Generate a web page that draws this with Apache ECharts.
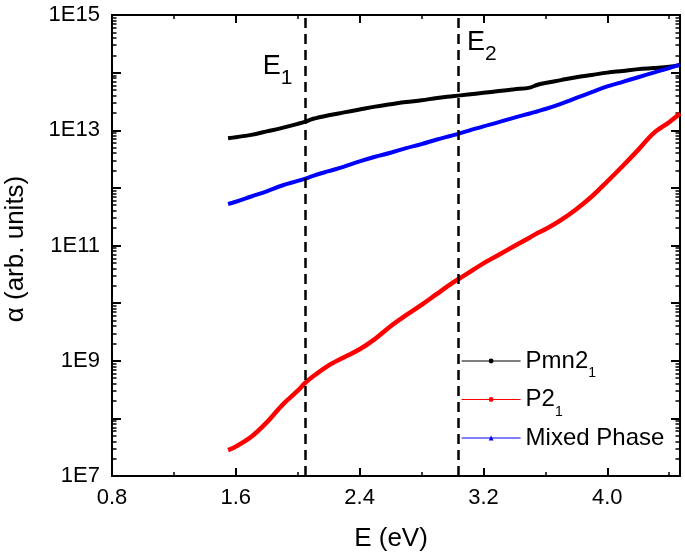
<!DOCTYPE html>
<html><head><meta charset="utf-8">
<script src="https://cdn.jsdelivr.net/npm/echarts@6/dist/echarts.min.js"></script>
<style>html,body{margin:0;padding:0;background:#fff}#c{width:685px;height:556px}</style>
</head><body><div id="c"></div>
<script>
// ---- data ----
const energy = [1.55,1.6,1.7,1.8,1.9,2.0,2.05,2.1,2.2,2.3,2.4,2.5,2.6,2.7,2.8,2.9,3.0,3.1,3.2,3.3,3.4,3.5,3.55,3.6,3.7,3.8,3.9,4.0,4.1,4.2,4.3,4.4,4.47];
const pmn21 = [7.24e12,7.59e12,8.32e12,9.55e12,1.10e13,1.29e13,1.41e13,1.58e13,1.82e13,2.04e13,2.29e13,2.57e13,2.82e13,3.09e13,3.31e13,3.63e13,3.89e13,4.17e13,4.47e13,4.79e13,5.13e13,5.50e13,6.17e13,6.61e13,7.41e13,8.32e13,9.12e13,1.00e14,1.07e14,1.15e14,1.20e14,1.26e14,1.35e14];
const p21 = [2.82e7,3.24e7,4.79e7,8.51e7,1.70e8,3.02e8,4.17e8,5.37e8,8.32e8,1.15e9,1.58e9,2.40e9,3.98e9,6.17e9,9.33e9,1.45e10,2.24e10,3.31e10,4.90e10,6.92e10,9.77e10,1.38e11,1.65e11,1.91e11,2.75e11,4.27e11,7.08e11,1.29e12,2.40e12,4.57e12,8.91e12,1.38e13,1.95e13];
const mixed = [5.25e11,5.75e11,7.08e11,8.71e11,1.10e12,1.32e12,1.45e12,1.62e12,1.95e12,2.34e12,2.88e12,3.47e12,4.07e12,4.90e12,5.75e12,6.92e12,8.13e12,9.77e12,1.17e13,1.38e13,1.66e13,1.95e13,2.14e13,2.34e13,2.88e13,3.63e13,4.57e13,5.75e13,6.92e13,8.32e13,1.00e14,1.20e14,1.38e14];
const seriesNames = ['Pmn2\u2081','P2\u2081','Mixed Phase'];
const seriesColors = ['#000000','#ff0000','#0000ff'];
const seriesSymbols = ['circle','circle','triangle'];
const xMajorTicks = [0.8,1.6,2.4,3.2,4.0];
const xMinorTicks = [1.2,2.0,2.8,3.6,4.4];
const yMajorTicks = [1e7,1e8,1e9,1e10,1e11,1e12,1e13,1e14,1e15];
const yLabelTicks = [1e7,1e9,1e11,1e13,1e15];
const edgeLines = [2.05,3.04];
const edgeLabels = [{main:'E',sub:'1',x:1.87,y:1.30e14},{main:'E',sub:'2',x:3.19,y:3.33e14}];

const Y_MIN = 1e7, Y_MAX = 1e15;
const yMinorTicks = [];
for (let k = 7; k < 15; k++) for (let m = 2; m <= 9; m++) yMinorTicks.push(m * Math.pow(10, k));
// keep end values just inside the log extent (avoids float round-off dropping them)
const inside = arr => arr.map(v => Math.min(Math.max(v, Y_MIN * (1 + 1e-9)), Y_MAX * (1 - 1e-9)));

const FONT = '"Liberation Sans", Arial, sans-serif';
const BLACK = '#000';

function xAx(pos, ticks, len, w, withLabels) {
  const a = {
    type:'value', position:pos, min:0.8, max:4.47,
    axisLine:{show:true,onZero:false,lineStyle:{color:BLACK,width:2}},
    axisTick:{show:true,inside:true,length:len,customValues:ticks,lineStyle:{color:BLACK,width:w}},
    axisLabel:{show:false}, splitLine:{show:false}, minorTick:{show:false}
  };
  if (withLabels) {
    a.axisLabel = {show:true,customValues:ticks,formatter:v=>v.toFixed(1),fontSize:22,color:BLACK,fontFamily:FONT,margin:11};
    a.name = 'E (eV)'; a.nameLocation='middle'; a.nameGap=50;
    a.nameTextStyle = {fontSize:26,color:BLACK,fontFamily:FONT,padding:[0,10,0,0]};
  }
  return a;
}
function yAx(pos, ticks, len, w, withLabels) {
  const a = {
    type:'log', logBase:10, position:pos, min:Y_MIN, max:Y_MAX,
    axisLine:{show:true,onZero:false,lineStyle:{color:BLACK,width:2}},
    axisTick:{show:true,inside:true,length:len,customValues:inside(ticks),lineStyle:{color:BLACK,width:w}},
    axisLabel:{show:false}, splitLine:{show:false}, minorTick:{show:false}
  };
  if (withLabels) {
    a.axisLabel = {show:true,customValues:inside(yLabelTicks),formatter:v=>'1E'+Math.round(Math.log10(v)),fontSize:22,color:BLACK,fontFamily:FONT,margin:12};
    a.name = '\u03b1 (arb. units)'; a.nameLocation='middle'; a.nameGap=83;
    a.nameTextStyle = {fontSize:26,color:BLACK,fontFamily:FONT,padding:[0,7,0,0]};
  }
  return a;
}

const dataSets = [pmn21, p21, mixed];
const series = dataSets.map((vals, i) => ({
  name: seriesNames[i], type:'line', xAxisIndex:0, yAxisIndex:0,
  data: energy.map((e, j) => [e, vals[j]]),
  showSymbol:false, symbol:seriesSymbols[i], symbolSize:5,
  smooth:0.35,
  lineStyle:{color:seriesColors[i], width:i===1?4.5:4},
  itemStyle:{color:seriesColors[i]},
  silent:true
}));
series[2].markLine = {
  silent:true, symbol:['none','none'], animation:false,
  label:{show:false},
  lineStyle:{color:BLACK,width:2.5,type:[10,6]},
  data: edgeLines.map(v => ({xAxis:v}))
};
series[0].markPoint = {
  silent:true, symbol:'circle', symbolSize:1, itemStyle:{color:'rgba(0,0,0,0)'},
  label:{show:true, position:'inside', color:BLACK, fontFamily:FONT,
    rich:{m:{fontSize:27,lineHeight:45,fontFamily:FONT,color:BLACK},
          s:{fontSize:21,lineHeight:21,verticalAlign:'bottom',fontFamily:FONT,color:BLACK}}},
  data: edgeLabels.map(l => ({coord:[l.x,l.y], label:{formatter:'{m|'+l.main+'}{s|'+l.sub+'}'}}))
};
// empty carrier series so the overlay tick axes are laid out
for (let i = 1; i < 4; i++) series.push({type:'line', xAxisIndex:i, yAxisIndex:i, data:[], silent:true});

const chart = echarts.init(document.getElementById('c'), null, {renderer:'canvas'});
chart.setOption({
  animation:false,
  backgroundColor:'#fff',
  grid:{left:112,right:5,top:15,bottom:80,containLabel:false,outerBoundsMode:'none'},
  xAxis:[xAx('bottom',xMajorTicks,8,2,true), xAx('bottom',xMinorTicks,4,1.5,false),
         xAx('top',xMajorTicks,8,2,false), xAx('top',xMinorTicks,4,1.5,false)],
  yAxis:[yAx('left',yMajorTicks,9,2,true), yAx('left',yMinorTicks,4.5,1.5,false),
         yAx('right',yMajorTicks,9,2,false), yAx('right',yMinorTicks,4.5,1.5,false)],
  legend:{
    orient:'vertical', left:461, top:349, padding:0, itemGap:7,
    itemWidth:59, itemHeight:6, selectedMode:false,
    data:seriesNames,
    lineStyle:{width:1.2},
    formatter: n => n.indexOf('\u2081') >= 0 ? '{m|'+n.replace('\u2081','')+'}{s|1}' : '{m|'+n+'}',
    textStyle:{color:BLACK,fontFamily:FONT,fontSize:24,
      rich:{m:{fontSize:24,lineHeight:39,fontFamily:FONT,color:BLACK},
            s:{fontSize:14,lineHeight:14,verticalAlign:'bottom',fontFamily:FONT,color:BLACK}}}
  },
  series: series
});
</script></body></html>
